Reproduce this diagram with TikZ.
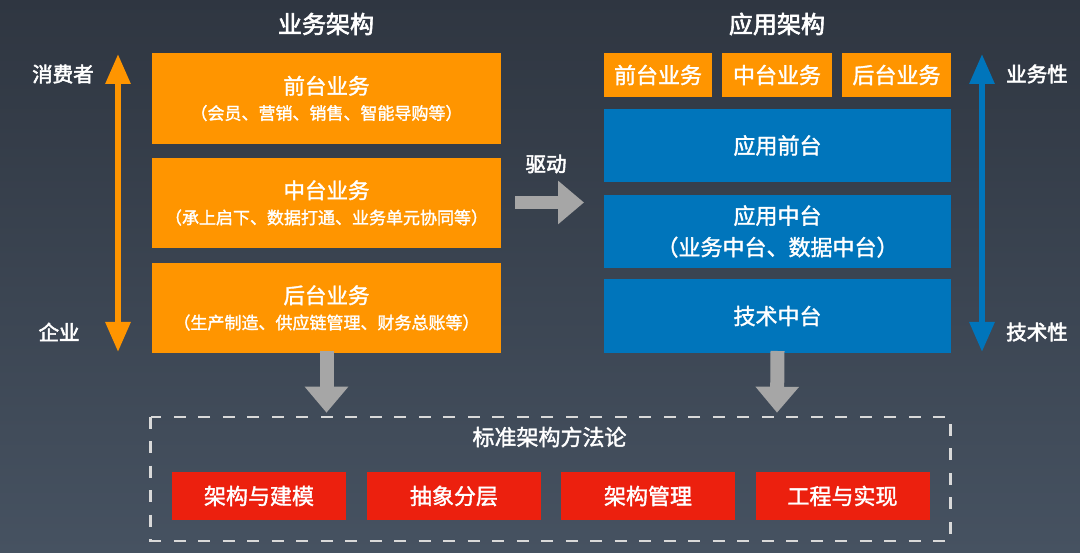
\documentclass[tikz,border=0pt]{standalone}
\usepackage{fontspec}
\setmainfont{Noto Sans CJK SC}[FakeBold=1.5]
\newfontfamily\medfont{Noto Sans CJK SC}[FakeBold=1.6]
\newfontfamily\heavyfont{Noto Sans CJK SC}[FakeBold=2.6]
\usetikzlibrary{arrows.meta}
\definecolor{bgtop}{HTML}{2F3641}
\definecolor{bgbot}{HTML}{465261}
\definecolor{org}{HTML}{FF9500}
\definecolor{blu}{HTML}{0075BB}
\definecolor{rd}{HTML}{EC200E}
\definecolor{gry}{HTML}{A6A6A6}
\definecolor{dsh}{HTML}{D9D9D9}
\begin{document}
\begin{tikzpicture}[x=1pt,y=-1pt,
  box/.style={inner sep=0pt, outer sep=0pt, text=white, align=center, anchor=north west},
  obox/.style={box, fill=org},
  bbox/.style={box, fill=blu},
  rbox/.style={box, fill=rd, minimum width=174pt, minimum height=48pt, font=\medfont\fontsize{22}{26}\selectfont},
  ttl/.style={text=white, font=\heavyfont\fontsize{24}{28}\selectfont},
  side/.style={text=white, font=\heavyfont\fontsize{20.5}{24}\selectfont},
  lbl/.style={text=white, font=\medfont\fontsize{22}{26}\selectfont},
  twoline/.style={font=\medfont\fontsize{17}{25.5}\selectfont},
  big/.style={font=\medfont\fontsize{22}{26}\selectfont},
  axisarrow/.style={line width=6pt, {Triangle[width=24pt,length=30pt]}-{Triangle[width=24pt,length=30pt]}},
  flow/.style={draw=gry, line width=14pt, -{Triangle[width=42pt,length=26pt]}},
  dashbox/.style={draw=dsh, line width=2.2pt, dash pattern=on 12pt off 12.5pt}
]
\useasboundingbox (0,0) rectangle (1080,553);
\shade[top color=bgtop, bottom color=bgbot] (0,0) rectangle (1080,553);

% titles
\node[ttl] (t1) at (326,24) {业务架构};
\node[ttl] (t2) at (777,24) {应用架构};

% left business boxes
\node[obox, twoline, minimum width=349pt, minimum height=91pt] (lb1) at (152,53)
  {{\fontsize{21.5}{25.5}\selectfont 前台业务}\\（会员、营销、销售、智能导购等）};
\node[obox, twoline, minimum width=349pt, minimum height=90pt] (lb2) at (152,158)
  {{\fontsize{21.5}{25.5}\selectfont 中台业务}\\（承上启下、数据打通、业务单元协同等）};
\node[obox, twoline, minimum width=349pt, minimum height=90pt] (lb3) at (152,263)
  {{\fontsize{21.5}{25.5}\selectfont 后台业务}\\（生产制造、供应链管理、财务总账等）};

% right small orange boxes
\node[obox, big, minimum width=108pt, minimum height=44pt] (sb1) at (604,53) {前台业务};
\node[obox, big, minimum width=110pt, minimum height=44pt] (sb2) at (722,53) {中台业务};
\node[obox, big, minimum width=109pt, minimum height=44pt] (sb3) at (842,53) {后台业务};

% blue boxes
\node[bbox, big, minimum width=347pt, minimum height=73pt] (ab1) at (604,109) {应用前台};
\node[bbox, font=\medfont\fontsize{22}{31.5}\selectfont, minimum width=347pt, minimum height=73pt] (ab2) at (604,195) {应用中台\\（业务中台、数据中台）};
\node[bbox, big, minimum width=347pt, minimum height=74pt] (ab3) at (604,279) {技术中台};

% side labels
\node[side] (consumer) at (63,74) {消费者};
\node[side] (enterprise) at (59,332) {企业};
\node[side] (bizness) at (1037,74) {业务性};
\node[side] (techness) at (1037,332) {技术性};

% axis arrows
\coordinate (oa1) at (118,54);
\coordinate (oa2) at (118,352);
\draw[axisarrow, org] (oa1) -- (oa2);
\coordinate (ba1) at (982,54);
\coordinate (ba2) at (982,352);
\draw[axisarrow, blu] (ba1) -- (ba2);

% drive arrow
\node[side] (drive) at (546,164) {驱动};
\coordinate (d1) at (515,202.5);
\coordinate (d2) at (584,202.5);
\draw[flow, line width=13pt] (d1) -- (d2);

% methodology box
\draw[dashbox] (150.5,416.7) rectangle (950.5,540.7);
\coordinate (dashtopL) at (326.5,412.7);
\coordinate (dashtopR) at (777,412.7);
\draw[flow] ([yshift=2pt]lb3.south) -- (dashtopL);
\draw[flow] ([yshift=2pt]ab3.south) -- (dashtopR);

\node[lbl] (method) at (549.5,437) {标准架构方法论};
\node[rbox] (rb1) at (172,472) {架构与建模};
\node[rbox] (rb2) at (367,472) {抽象分层};
\node[rbox] (rb3) at (561,472) {架构管理};
\node[rbox] (rb4) at (755.5,472) {工程与实现};
\end{tikzpicture}
\end{document}
